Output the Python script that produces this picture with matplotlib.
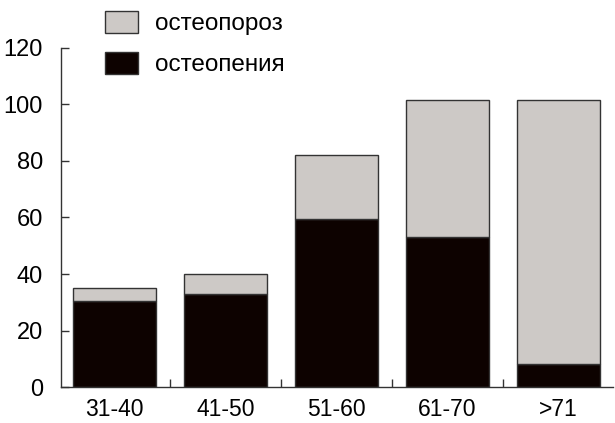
import matplotlib
matplotlib.use("Agg")
import matplotlib.pyplot as plt
from matplotlib.patches import Patch

categories = ["31-40", "41-50", "51-60", "61-70", ">71"]
osteopenia = [30.5, 33.0, 59.5, 53.0, 8.3]
osteoporosis = [4.5, 7.0, 22.5, 48.5, 93.2]
yticks = [0, 20, 40, 60, 80, 100, 120]

plt.rcParams['font.family'] = ['Liberation Sans', 'DejaVu Sans']

grey = '#cdc9c6'
black = '#0d0200'
edge = '#333333'

fig = plt.figure(figsize=(6.15, 4.23), dpi=100)
ax = fig.add_axes([61/615, 1-387.3/423, (613-61)/615, (387.3-47.7)/423])

x = list(range(len(categories)))
ax.bar(x, osteopenia, width=0.75, color=black, edgecolor=edge, linewidth=1.0, zorder=2)
ax.bar(x, osteoporosis, width=0.75, bottom=osteopenia, color=grey, edgecolor=edge,
       linewidth=1.0, zorder=2)

ax.set_xlim(-0.48, 4.49)
ax.set_ylim(0, 120)
ax.set_yticks(yticks)
ax.set_yticklabels([str(v) for v in yticks])
ax.set_xticks(x)
ax.set_xticklabels(categories)
ax.tick_params(axis='x', which='major', length=0, labelsize=16.5, pad=8)
ax.set_xticks([i + 0.5 for i in x[:-1]], minor=True)
ax.tick_params(axis='x', which='minor', direction='in', length=6, width=1, color='#333333')
ax.tick_params(axis='y', direction='in', length=6, width=1, labelsize=17, pad=13, color='#333333')
for s in ['top', 'right']:
    ax.spines[s].set_visible(False)
for s in ['left', 'bottom']:
    ax.spines[s].set_linewidth(1.0)
    ax.spines[s].set_color('#333333')

handles = [Patch(facecolor=grey, edgecolor=edge, linewidth=1.0, label='остеопороз'),
           Patch(facecolor=black, edgecolor=edge, linewidth=1.0, label='остеопения')]
fig.legend(handles=handles, loc='upper left', bbox_to_anchor=(105/615, 1-11/423),
           frameon=False, fontsize=17.5, handlelength=1.35, handleheight=1.0,
           handletextpad=0.7, labelspacing=0.7, borderpad=0, borderaxespad=0)

fig.savefig('out.png', dpi=100)
